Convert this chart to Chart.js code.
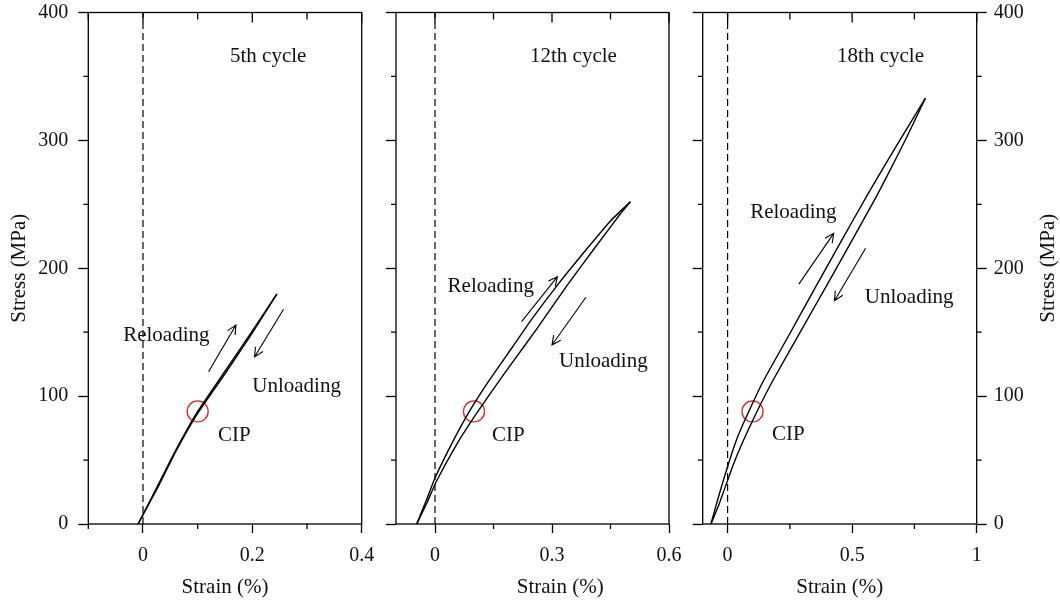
<!DOCTYPE html>
<html><head><meta charset="utf-8">
<script src="https://cdn.jsdelivr.net/npm/chart.js@4.4.0/dist/chart.umd.min.js"></script>
<style>
html,body{margin:0;padding:0;background:#fff;}
#wrap{position:relative;width:1060px;height:602px;overflow:hidden;background:#fff;}
.p{position:absolute;top:0;height:602px;}
</style></head><body>
<div id="wrap">
<div class="p" style="left:0px;width:375px"><canvas id="c1" width="375" height="602"></canvas></div>
<div class="p" style="left:380px;width:305px"><canvas id="c2" width="305" height="602"></canvas></div>
<div class="p" style="left:686px;width:374px"><canvas id="c3" width="374" height="602"></canvas></div>
</div>
<script>
// ---------- data ----------
const stressTicks = [0, 50, 100, 150, 200, 250, 300, 350, 400];
const stressMajor = [0, 100, 200, 300, 400];
const stressLabels = ['0', '100', '200', '300', '400'];

const strainTicks5 = [-0.1, 0, 0.1, 0.2, 0.3, 0.4];
const strainMajor5 = [0, 0.2, 0.4];
const strainLabels5 = ['0', '0.2', '0.4'];
const strainTicks12 = [0, 0.15, 0.3, 0.45, 0.6];
const strainMajor12 = [0, 0.3, 0.6];
const strainLabels12 = ['0', '0.3', '0.6'];
const strainTicks18 = [0, 0.25, 0.5, 0.75, 1];
const strainMajor18 = [0, 0.5, 1];
const strainLabels18 = ['0', '0.5', '1'];

// 5th cycle
const c5ReloadStrain = [-0.009, 0.03, 0.061, 0.1, 0.15, 0.2, 0.245];
const c5ReloadStress = [0, 32.5, 58.5, 88, 119.5, 151, 180];
const c5UnloadStrain = [0.245, 0.2, 0.15, 0.1, 0.061, 0.03, -0.009];
const c5UnloadStress = [180, 149.5, 117.5, 86.5, 57.5, 31, 0];
// 12th cycle
const c12ReloadStrain = [-0.047, -0.023, 0, 0.045, 0.09, 0.136, 0.2, 0.25, 0.317, 0.389, 0.45, 0.501];
const c12ReloadStress = [0, 18, 36, 64, 89, 111, 139, 161, 188, 215, 237, 252];
const c12UnloadStrain = [0.501, 0.474, 0.41, 0.342, 0.262, 0.2, 0.16, 0.11, 0.059, 0.003, -0.02, -0.047];
const c12UnloadStress = [252, 242, 216, 188, 153, 127, 110, 88, 64, 33, 17, 0];
// 18th cycle
const c18ReloadStrain = [-0.067, -0.04, 0, 0.04, 0.085, 0.144, 0.25, 0.358, 0.45, 0.563, 0.691, 0.794];
const c18ReloadStress = [0, 19, 45, 68, 88, 112, 149, 187, 219, 258, 300, 333];
const c18UnloadStrain = [0.794, 0.718, 0.64, 0.597, 0.5, 0.402, 0.3, 0.184, 0.118, 0.058, 0.02, -0.035, -0.067];
const c18UnloadStress = [333, 302, 272, 256, 222, 188, 153, 113, 88, 63, 45, 15, 0];

// common intersection point (CIP)
const cipStrain = [0.1];
const cipStress = [88];
// zero-strain reference line
const zeroStrain = [0, 0];
const zeroStress = [0, 400];

// ---------- helpers ----------
const FONT = "'Liberation Serif', 'Times New Roman', serif";
Chart.defaults.font.family = FONT;
Chart.defaults.color = '#111';
const pts = (xs, ys) => xs.map((x, i) => ({x: x, y: ys[i]}));
const isIn = (arr, v) => arr.some(m => Math.abs(m - v) < 1e-9);
const noPad = s => { s.paddingLeft = 0; s.paddingRight = 0; s.paddingTop = 0; s.paddingBottom = 0; };

const decor = {
  id: 'decor',
  afterDatasetsDraw(chart, args, o) {
    const ctx = chart.ctx, a = chart.chartArea;
    const xs = chart.scales.x, ys = chart.scales.y;
    ctx.save();
    ctx.strokeStyle = '#000';
    ctx.lineWidth = 1.3;
    ctx.strokeRect(a.left, a.top, a.right - a.left, a.bottom - a.top);
    // minor ticks (outward) & top inward ticks
    ctx.beginPath();
    o.xTicks.forEach(v => {
      const px = xs.getPixelForValue(v);
      if (!isIn(o.xMajor, v)) { ctx.moveTo(px, a.bottom); ctx.lineTo(px, a.bottom + 5); }
      ctx.moveTo(px, a.top); ctx.lineTo(px, a.top + (isIn(o.xMajor, v) ? 10 : 7));
    });
    stressTicks.forEach(v => {
      if (isIn(stressMajor, v)) return;
      const py = ys.getPixelForValue(v);
      ctx.moveTo(a.left - 5, py); ctx.lineTo(a.left, py);
      if (o.rightAxis) { ctx.moveTo(a.right, py); ctx.lineTo(a.right + 5, py); }
    });
    ctx.stroke();
    // arrows
    ctx.lineWidth = 1.1;
    o.arrows.forEach(ar => {
      const x1 = xs.getPixelForValue(ar[0]), y1 = ys.getPixelForValue(ar[1]);
      const x2 = xs.getPixelForValue(ar[2]), y2 = ys.getPixelForValue(ar[3]);
      const ang = Math.atan2(y2 - y1, x2 - x1), L = 10, h = 0.45;
      ctx.beginPath();
      ctx.moveTo(x1, y1); ctx.lineTo(x2, y2);
      ctx.moveTo(x2 - L * Math.cos(ang - h), y2 - L * Math.sin(ang - h));
      ctx.lineTo(x2, y2);
      ctx.lineTo(x2 - L * Math.cos(ang + h), y2 - L * Math.sin(ang + h));
      ctx.stroke();
    });
    // texts
    ctx.fillStyle = '#111';
    ctx.font = '21px ' + FONT;
    ctx.textAlign = 'center';
    ctx.textBaseline = 'alphabetic';
    o.texts.forEach(t => {
      ctx.fillText(t[0], xs.getPixelForValue(t[1]), ys.getPixelForValue(t[2]));
    });
    if (o.xTitleAt !== undefined) {
      ctx.fillText('Strain (%)', xs.getPixelForValue(o.xTitleAt), chart.height - 8.7);
    }
    if (o.rightAxis) {
      ctx.save();
      ctx.translate(chart.width - 12, (a.top + a.bottom) / 2);
      ctx.rotate(-Math.PI / 2);
      ctx.textBaseline = 'middle';
      ctx.fillText('Stress (MPa)', 0, 0);
      ctx.restore();
    }
    ctx.restore();
  }
};

function yScale(position, width, showLabels, padding) {
  return {
    type: 'linear', position: position, min: 0, max: 400,
    afterBuildTicks: s => { s.ticks = stressTicks.map(v => ({value: v})); },
    afterFit: s => { s.width = width; noPad(s); },
    ticks: {
      autoSkip: false, padding: padding, font: {size: 20}, color: '#111',
      callback: v => { if (!showLabels) return ''; const i = stressMajor.indexOf(v); return i >= 0 ? stressLabels[i] : ''; }
    },
    grid: {
      drawOnChartArea: false, drawTicks: true, tickLength: 10, tickWidth: 1.3,
      tickColor: c => (c.tick && isIn(stressMajor, c.tick.value)) ? '#000' : 'rgba(0,0,0,0)'
    },
    border: {display: false}
  };
}

function makeChart(id, cfg) {
  const datasets = [
    {data: pts(zeroStrain, zeroStress), borderColor: '#000', borderWidth: 1.2, borderDash: [7, 4], pointRadius: 0, showLine: true, tension: 0},
    {data: pts(cfg.reloadX, cfg.reloadY), borderColor: '#000', borderWidth: 1.4, pointRadius: 0, showLine: true, tension: 0.15},
    {data: pts(cfg.unloadX, cfg.unloadY), borderColor: '#000', borderWidth: 1.4, pointRadius: 0, showLine: true, tension: 0.15},
    {data: pts(cipStrain, cipStress), borderColor: '#e8231f', borderWidth: 1.3, backgroundColor: 'rgba(0,0,0,0)', pointRadius: 10.5, pointStyle: 'circle', showLine: false}
  ];
  const scales = {
    x: {
      type: 'linear', position: 'bottom', min: cfg.xMin, max: cfg.xMax,
      afterBuildTicks: s => { s.ticks = cfg.xTicks.map(v => ({value: v})); },
      afterFit: s => { s.height = 78; noPad(s); },
      ticks: {
        autoSkip: false, maxRotation: 0, padding: 11, font: {size: 20}, color: '#111',
        callback: v => { const i = cfg.xMajor.findIndex(m => Math.abs(m - v) < 1e-9); return i >= 0 ? cfg.xLabels[i] : ''; }
      },
      grid: {
        drawOnChartArea: false, drawTicks: true, tickLength: 9, tickWidth: 1.3,
        tickColor: c => (c.tick && isIn(cfg.xMajor, c.tick.value)) ? '#000' : 'rgba(0,0,0,0)'
      },
      border: {display: false},
      title: {display: cfg.xTitleAt === undefined, text: 'Strain (%)', font: {size: 21}, color: '#111', padding: {top: 0, bottom: 2}}
    },
    y: yScale('left', cfg.yWidth, cfg.leftLabels, 10)
  };
  if (cfg.leftLabels) {
    scales.y.title = {display: true, text: 'Stress (MPa)', font: {size: 21}, color: '#111', padding: {top: 7, bottom: 0}};
  }
  if (cfg.rightAxis) {
    scales.y2 = yScale('right', 83.3, true, 7);
  }
  return new Chart(document.getElementById(id), {
    type: 'scatter',
    data: {datasets: datasets},
    options: {
      responsive: false, animation: false,
      layout: {padding: cfg.padding},
      plugins: {
        legend: {display: false}, tooltip: {enabled: false},
        decor: {xTicks: cfg.xTicks, xMajor: cfg.xMajor, arrows: cfg.arrows, texts: cfg.texts, rightAxis: !!cfg.rightAxis, xTitleAt: cfg.xTitleAt}
      },
      scales: scales
    },
    plugins: [decor]
  });
}

makeChart('c1', {
  xMin: -0.1, xMax: 0.4, xTicks: strainTicks5, xMajor: strainMajor5, xLabels: strainLabels5,
  reloadX: c5ReloadStrain, reloadY: c5ReloadStress, unloadX: c5UnloadStrain, unloadY: c5UnloadStress,
  yWidth: 88.3, leftLabels: true,
  padding: {left: 0, right: 13.3, top: 12.5, bottom: 0},
  arrows: [[0.120, 119, 0.170, 155.6], [0.257, 168, 0.204, 130.6]],
  texts: [['5th cycle', 0.229, 361.6], ['Reloading', 0.0427, 143.3], ['Unloading', 0.281, 103.4], ['CIP', 0.167, 65.1]]
});
makeChart('c2', {
  xMin: -0.1, xMax: 0.6, xTicks: strainTicks12, xMajor: strainMajor12, xLabels: strainLabels12,
  reloadX: c12ReloadStrain, reloadY: c12ReloadStress, unloadX: c12UnloadStrain, unloadY: c12UnloadStress,
  yWidth: 16, leftLabels: false,
  padding: {left: 0, right: 16, top: 12.5, bottom: 0},
  arrows: [[0.222, 158.2, 0.314, 193.4], [0.387, 177.3, 0.30, 140]],
  texts: [['12th cycle', 0.355, 361.6], ['Reloading', 0.143, 181.6], ['Unloading', 0.4316, 123], ['CIP', 0.188, 65.1]],
  xTitleAt: 0.321
});
makeChart('c3', {
  xMin: -0.1, xMax: 1, xTicks: strainTicks18, xMajor: strainMajor18, xLabels: strainLabels18,
  reloadX: c18ReloadStrain, reloadY: c18ReloadStress, unloadX: c18UnloadStrain, unloadY: c18UnloadStress,
  yWidth: 16.7, leftLabels: false, rightAxis: true,
  padding: {left: 0, right: 0, top: 12.5, bottom: 0},
  arrows: [[0.286, 187.6, 0.426, 227.3], [0.554, 215.6, 0.429, 174.6]],
  texts: [['18th cycle', 0.614, 361.6], ['Reloading', 0.264, 239], ['Unloading', 0.729, 172.6], ['CIP', 0.2437, 65.7]]
});
</script>
</body></html>
